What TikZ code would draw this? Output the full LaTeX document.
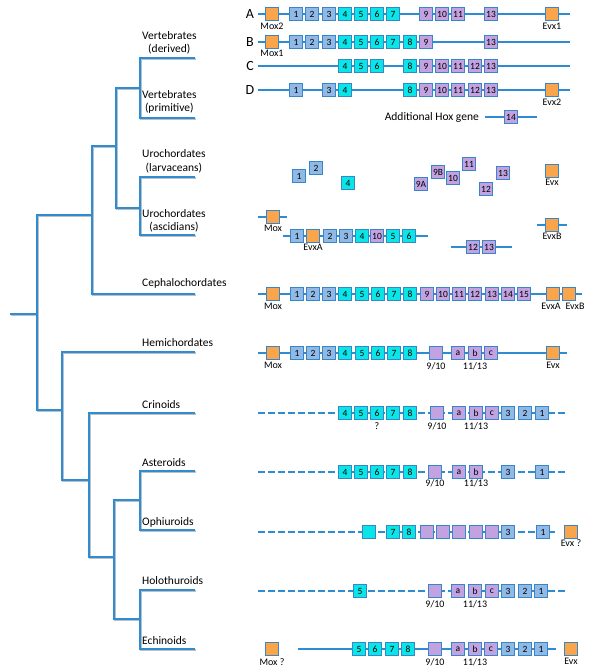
\documentclass[tikz,border=0pt]{standalone}
\usepackage{fontspec}
\setmainfont{Carlito}
\usetikzlibrary{shadows}
\definecolor{treeblue}{RGB}{45,140,210}
\definecolor{boxline}{RGB}{55,135,200}
\definecolor{hoxblue}{RGB}{145,185,230}
\definecolor{hoxcyan}{RGB}{10,230,232}
\definecolor{hoxpurple}{RGB}{195,162,225}
\definecolor{hoxorange}{RGB}{250,165,75}
\begin{document}
\begin{tikzpicture}[x=1pt,y=-1pt,
  branch/.style={draw=treeblue,line width=2.2pt,preaction={draw=black!25,line width=2.2pt,transform canvas={xshift=0.8pt,yshift=-0.8pt}}},
  taxon/.style={anchor=west,align=center,inner sep=0pt,font=\fontsize{11.5}{13.5}\selectfont},
  rowlab/.style={font=\fontsize{14}{14}\selectfont,inner sep=0pt},
  chrom/.style={draw=treeblue,line width=1.8pt},
  broken/.style={chrom,dash pattern=on 7pt off 3pt},
  gene/.style={draw=boxline,line width=0.8pt,minimum size=12.5pt,inner sep=0pt,font=\fontsize{9.5}{9.5}\selectfont,drop shadow={opacity=0.25,shadow xshift=0.6pt,shadow yshift=-0.6pt}},
  hb/.style={gene,fill=hoxblue},
  hc/.style={gene,fill=hoxcyan},
  hp/.style={gene,fill=hoxpurple},
  ho/.style={gene,fill=hoxorange},
  glab/.style={font=\fontsize{10}{10}\selectfont,inner sep=0pt,label distance=2.5pt}]

\useasboundingbox (0,0) rectangle (600,670);

%% tree
\draw[branch] (10,314) -- (37,314);
\draw[branch] (92,215) -| (37,410) -- (62,410);
\draw[branch] (116,146) -| (92,294) -- (195,294);
\draw[branch] (140,88) -| (116,208) -- (140,208);
\draw[branch] (195,58) -| (140,118) -- (195,118);
\draw[branch] (195,177) -| (140,235) -- (195,235);
\draw[branch] (195,352) -| (62,480) -- (89,480);
\draw[branch] (195,413) -| (89,557) -- (114,557);
\draw[branch] (140,500) -| (114,619) -- (140,619);
\draw[branch] (195,471) -| (140,530) -- (195,530);
\draw[branch] (195,590) -| (140,649) -- (195,649);

\node[taxon] (vertD) at (142,43) {Vertebrates\\(derived)};
\node[taxon] (vertP) at (142,102) {Vertebrates\\(primitive)};
\node[taxon] (uroL) at (142,161.5) {Urochordates\\(larvaceans)};
\node[taxon] (uroA) at (142,221) {Urochordates\\(ascidians)};
\node[taxon] (ceph) at (142,283) {Cephalochordates};
\node[taxon] (hemi) at (142,343) {Hemichordates};
\node[taxon] (crin) at (142,405) {Crinoids};
\node[taxon] (aste) at (142,463) {Asteroids};
\node[taxon] (ophi) at (142,522) {Ophiuroids};
\node[taxon] (holo) at (142,581) {Holothuroids};
\node[taxon] (echi) at (142,641) {Echinoids};

%% vertebrate clusters
\node[rowlab] (rowA) at (250,14) {A};
\node[rowlab] (rowB) at (250,42) {B};
\node[rowlab] (rowC) at (250,66) {C};
\node[rowlab] (rowD) at (250,90) {D};
\draw[chrom] (258,14) -- (570,14);
\draw[chrom] (258,42) -- (570,42);
\draw[chrom] (258,66) -- (570,66);
\draw[chrom] (258,90) -- (570,90);

\node[ho,label={[glab]below:Mox2}] (AMox) at (272,14) {};
\foreach \x/\t/\s in {296/1/hb,312/2/hb,329/3/hb,345/4/hc,361/5/hc,377/6/hc,393/7/hc,426/9/hp,442/10/hp,458/11/hp,491/13/hp}
  \node[\s] (A\t) at (\x,14) {\t};
\node[ho,label={[glab]below:Evx1}] (AEvx) at (552,14) {};

\node[ho,label={[glab,label distance=1pt]below:Mox1}] (BMox) at (272,42) {};
\foreach \x/\t/\s in {296/1/hb,312/2/hb,329/3/hb,345/4/hc,361/5/hc,377/6/hc,393/7/hc,410/8/hc,426/9/hp,491/13/hp}
  \node[\s] (B\t) at (\x,42) {\t};

\foreach \x/\t/\s in {345/4/hc,361/5/hc,377/6/hc,410/8/hc,426/9/hp,442/10/hp,458/11/hp,475/12/hp,491/13/hp}
  \node[\s] (C\t) at (\x,66) {\t};

\foreach \x/\t/\s in {296/1/hb,329/3/hb,345/4/hc,410/8/hc,426/9/hp,442/10/hp,458/11/hp,475/12/hp,491/13/hp}
  \node[\s] (D\t) at (\x,90) {\t};
\node[ho,label={[glab]below:Evx2}] (DEvx) at (552,90) {};

\node[font=\fontsize{11.5}{11.5}\selectfont,anchor=east,inner sep=0pt] (addHox) at (479,117) {Additional Hox gene};
\draw[chrom] (485,117) -- (537,117);
\node[hp] (add14) at (511,117) {14};

%% urochordates
\node[hb] (L1) at (299,176) {1};
\node[hb] (L2) at (316,168) {2};
\node[hc] (L4) at (348,183) {4};
\node[hp] (L9A) at (421,184) {9A};
\node[hp] (L9B) at (438,172) {9B};
\node[hp] (L10) at (453,178) {10};
\node[hp] (L11) at (469,164) {11};
\node[hp] (L12) at (486,189) {12};
\node[hp] (L13) at (503,173) {13};
\node[ho,label={[glab,label distance=1pt]below:Evx}] (LEvx) at (552,171) {};

\draw[chrom] (258,217) -- (287,217);
\node[ho,label={[glab,label distance=1pt]below:Mox}] (UMox) at (273,217) {};
\draw[chrom] (283,236) -- (428,236);
\foreach \x/\t/\s in {297/1/hb,330/2/hb,346/3/hb,362/4/hc,377/10/hp,393/5/hc,409/6/hc}
  \node[\s] (U\t) at (\x,236) {\t};
\node[ho,label={[glab,label distance=1pt]below:EvxA}] (UEvxA) at (313,236) {};
\draw[chrom] (537,225) -- (567,225);
\node[ho,label={[glab,label distance=1pt]below:EvxB}] (UEvxB) at (552,225) {};
\draw[chrom] (451,247) -- (512,247);
\node[hp] (U12) at (473,247) {12};
\node[hp] (U13) at (489,247) {13};

%% cephalochordates
\draw[chrom] (258,294) -- (582,294);
\node[ho,label={[glab,label distance=2pt]below:Mox}] (CeMox) at (273,294) {};
\foreach \x/\t/\s in {297/1/hb,313/2/hb,329/3/hb,345/4/hc,362/5/hc,378/6/hc,394/7/hc,410/8/hc,427/9/hp,443/10/hp,459/11/hp,475/12/hp,492/13/hp,508/14/hp,524/15/hp}
  \node[\s] (Ce\t) at (\x,294) {\t};
\node[ho,label={[glab,label distance=2pt,xshift=-2pt]below:EvxA}] (CeEvxA) at (553,294) {};
\node[ho,label={[glab,label distance=2pt,xshift=6pt]below:EvxB}] (CeEvxB) at (569,294) {};

%% hemichordates
\draw[chrom] (258,353) -- (567,353);
\node[ho,label={[glab]below:Mox}] (HeMox) at (273,353) {};
\foreach \x/\t/\s in {297/1/hb,313/2/hb,329/3/hb,345/4/hc,362/5/hc,378/6/hc,394/7/hc,410/8/hc}
  \node[\s] (He\t) at (\x,353) {\t};
\node[hp,label={[glab]below:9/10}] (He910) at (436,353) {};
\node[hp] (Hea) at (458,353) {a};
\node[hp,label={[glab]below:11/13}] (Heb) at (475,353) {b};
\node[hp] (Hec) at (491,353) {c};
\node[ho,label={[glab]below:Evx}] (HeEvx) at (553,353) {};

%% crinoids
\draw[broken] (258,413) -- (568,413);
\foreach \x/\t/\s in {345/4/hc,361/5/hc,393/7/hc,410/8/hc,459/a/hp,492/c/hp,508/3/hb,525/2/hb,542/1/hb}
  \node[\s] (Cr\t) at (\x,413) {\t};
\node[hc,label={[glab]below:?}] (Cr6) at (377,413) {6};
\node[hp,label={[glab]below:9/10}] (Cr910) at (437,413) {};
\node[hp,label={[glab]below:11/13}] (Crb) at (476,413) {b};

%% asteroids
\draw[broken] (258,472) -- (568,472);
\foreach \x/\t/\s in {345/4/hc,361/5/hc,377/6/hc,393/7/hc,410/8/hc,459/a/hp,508/3/hb,542/1/hb}
  \node[\s] (As\t) at (\x,472) {\t};
\node[hp,label={[glab,label distance=1pt]below:9/10}] (As910) at (435,472) {};
\node[hp,label={[glab,label distance=1pt]below:11/13}] (Asb) at (476,472) {b};

%% ophiuroids
\draw[broken] (258,532) -- (558,532);
\foreach \x/\t/\s in {369//hc,393/7/hc,409/8/hc,427//hp,443//hp,459//hp,476//hp,492//hp,508/3/hb,543/1/hb}
  \node[\s] at (\x,532) {\t};
\node[ho,label={[glab,label distance=1pt]below:Evx ?}] (OpEvx) at (571,532) {};

%% holothuroids
\draw[broken] (258,591) -- (568,591);
\foreach \x/\t/\s in {360/5/hc,458/a/hp,492/c/hp,508/3/hb,525/2/hb,541/1/hb}
  \node[\s] (Ho\t) at (\x,591) {\t};
\node[hp,label={[glab]below:9/10}] (Ho910) at (435,591) {};
\node[hp,label={[glab]below:11/13}] (Hob) at (475,591) {b};

%% echinoids
\node[ho,label={[glab]below:Mox ?}] (EcMox) at (272,649) {};
\draw[chrom] (298,649) -- (556,649);
\foreach \x/\t/\s in {359/5/hc,375/6/hc,392/7/hc,408/8/hc,458/a/hp,491/c/hp,508/3/hb,525/2/hb,541/1/hb}
  \node[\s] (Ec\t) at (\x,649) {\t};
\node[hp,label={[glab]below:9/10}] (Ec910) at (435,649) {};
\node[hp,label={[glab]below:11/13}] (Ecb) at (475,649) {b};
\node[ho,label={[glab]below:Evx}] (EcEvx) at (571,649) {};

\end{tikzpicture}
\end{document}
